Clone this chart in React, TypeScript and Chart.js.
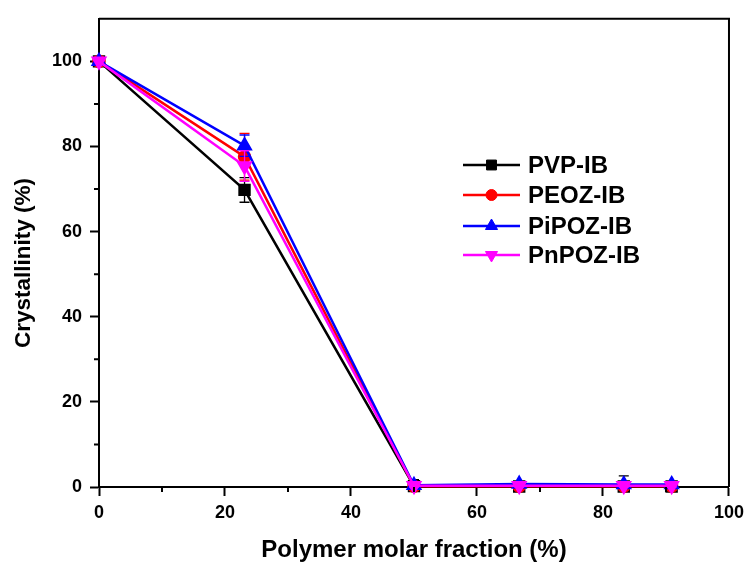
import React, { useEffect, useRef } from "react";
import { Chart, registerables } from "chart.js";
import { drawPoint } from "chart.js/helpers";

Chart.register(...registerables);

const xValues = [0, 23.1, 50, 66.7, 83.3, 90.9];
const seriesNames = ["PVP-IB", "PEOZ-IB", "PiPOZ-IB", "PnPOZ-IB"];
const pvp = [100, 69.8, 0.2, 0.1, 0.1, 0.1];
const peoz = [100, 77.6, 0.2, 0.2, 0.2, 0.2];
const pipoz = [100, 80.2, 0.4, 0.7, 0.6, 0.6];
const pnpoz = [100, 75.4, 0.3, 0.3, 0.3, 0.3];
const pvpErr = [0, 2.9, 1.5, 0.5, 2.5, 0.3];
const peozErr = [0, 5.5, 0.8, 0.3, 0.3, 0.3];
const pipozErr = [0, 2.5, 0.5, 0.3, 0.3, 0.3];
const pnpozErr = [0, 3.6, 0.4, 0.3, 0.3, 0.3];
const xTickLabels = ["0", "20", "40", "60", "80", "100"];
const yTickLabels = ["0", "20", "40", "60", "80", "100"];
const xTitle = "Polymer molar fraction (%)";
const yTitle = "Crystallinity (%)";

const colors = ["#000000", "#ff0000", "#0000ff", "#ff00ff"];
const styles = ["rect", "circle", "triangle", "triangle"];
const rotations = [0, 0, 0, 180];
const radii = [7, 5.5, 7, 7];
const FONT = "'Liberation Sans', Arial, sans-serif";

const allValues = [pvp, peoz, pipoz, pnpoz];
const allErrors = [pvpErr, peozErr, pipozErr, pnpozErr];

const errorBarPlugin = {
  id: "errorBars",
  afterDatasetDraw(chart: any, args: any) {
    const i = args.index;
    const ds = chart.data.datasets[i];
    const errs = ds.errors as number[];
    const xs = chart.scales.x;
    const ys = chart.scales.y;
    const ctx = chart.ctx;
    ctx.save();
    ctx.strokeStyle = ds.borderColor;
    ctx.lineWidth = 1.3;
    ds.data.forEach((p: any, j: number) => {
      const e = errs[j];
      if (!e) return;
      const px = xs.getPixelForValue(p.x);
      const top = ys.getPixelForValue(p.y + e);
      const bot = ys.getPixelForValue(Math.max(0, p.y - e));
      ctx.beginPath();
      ctx.moveTo(px, top);
      ctx.lineTo(px, bot);
      ctx.moveTo(px - 5, top);
      ctx.lineTo(px + 5, top);
      ctx.moveTo(px - 5, bot);
      ctx.lineTo(px + 5, bot);
      ctx.stroke();
    });
    ctx.restore();
  },
};

const framePlugin = {
  id: "frame",
  afterDraw(chart: any) {
    const { ctx, chartArea } = chart;
    const xs = chart.scales.x;
    const ys = chart.scales.y;
    ctx.save();
    ctx.strokeStyle = "#000";
    ctx.lineWidth = 2;
    ctx.beginPath();
    ctx.moveTo(chartArea.left, chartArea.top);
    ctx.lineTo(chartArea.right, chartArea.top);
    ctx.lineTo(chartArea.right, chartArea.bottom);
    ctx.stroke();
    // minor ticks
    ctx.beginPath();
    for (let v = 10; v <= 100; v += 20) {
      const px = xs.getPixelForValue(v);
      ctx.moveTo(px, chartArea.bottom);
      ctx.lineTo(px, chartArea.bottom + 5);
    }
    for (let v = 10; v < 110; v += 20) {
      const py = ys.getPixelForValue(v);
      ctx.moveTo(chartArea.left, py);
      ctx.lineTo(chartArea.left - 5, py);
    }
    ctx.stroke();
    // y title
    ctx.save();
    ctx.translate(24, 263);
    ctx.rotate(-Math.PI / 2);
    ctx.font = `bold 22.5px ${FONT}`;
    ctx.fillStyle = "#000";
    ctx.textAlign = "center";
    ctx.textBaseline = "middle";
    ctx.fillText(yTitle, 0, 0);
    ctx.restore();
    // legend
    const lx0 = 463;
    const lx1 = 520;
    const rowY = [165, 195, 226, 255];
    ctx.font = `bold 24px ${FONT}`;
    ctx.textBaseline = "middle";
    ctx.textAlign = "left";
    chart.data.datasets.forEach((ds: any, i: number) => {
      const y = rowY[i];
      ctx.strokeStyle = ds.borderColor;
      ctx.lineWidth = 2.5;
      ctx.beginPath();
      ctx.moveTo(lx0, y);
      ctx.lineTo(lx1, y);
      ctx.stroke();
      ctx.fillStyle = ds.pointBackgroundColor;
      ctx.strokeStyle = ds.borderColor;
      ctx.lineWidth = 1;
      drawPoint(ctx, { pointStyle: ds.pointStyle, rotation: ds.pointRotation, radius: ds.pointRadius, borderWidth: 1 }, (lx0 + lx1) / 2, y);
      ctx.fillStyle = "#000";
      ctx.fillText(ds.label, 528, y + 1);
    });
    ctx.restore();
  },
};

export default function App() {
  const ref = useRef<HTMLCanvasElement>(null);
  useEffect(() => {
    document.body.style.margin = "0";
    const datasets = seriesNames.map((name, i) => ({
      label: name,
      data: xValues.map((x, j) => ({ x, y: allValues[i][j] })),
      errors: allErrors[i],
      order: seriesNames.length - i,
      borderColor: colors[i],
      backgroundColor: colors[i],
      pointBackgroundColor: colors[i],
      pointBorderColor: colors[i],
      pointStyle: styles[i],
      pointRotation: rotations[i],
      pointRadius: radii[i],
      borderWidth: 2.5,
      tension: 0,
      clip: false,
    }));
    const chart = new Chart(ref.current as HTMLCanvasElement, {
      type: "line",
      data: { datasets } as any,
      plugins: [errorBarPlugin, framePlugin],
      options: {
        animation: false,
        responsive: false,
        devicePixelRatio: 1,
        layout: { padding: { left: 0, right: 17, top: 15, bottom: 0 } },
        plugins: { legend: { display: false }, tooltip: { enabled: false } },
        scales: {
          x: {
            type: "linear",
            min: 0,
            max: 100,
            afterFit: (s: any) => {
              s.height = 76;
            },
            afterBuildTicks: (s: any) => {
              s.ticks = [];
              for (let v = 0; v <= 100; v += 20) s.ticks.push({ value: v });
            },
            ticks: {
              color: "#000",
              padding: 6,
              font: { family: FONT, size: 18, weight: "bold" },
              maxRotation: 0,
              callback: (v: any) => xTickLabels[Math.round(Number(v) / 20)],
            },
            grid: { display: true, drawOnChartArea: false, tickLength: 9, tickWidth: 2, tickColor: "#000" },
            border: { display: true, color: "#000", width: 2 },
            title: {
              display: true,
              text: xTitle,
              color: "#000",
              font: { family: FONT, size: 24, weight: "bold", lineHeight: 1 },
              padding: { top: 0, bottom: 1 },
            },
          },
          y: {
            type: "linear",
            min: 0,
            max: 110,
            afterFit: (s: any) => {
              s.width = 99;
            },
            afterBuildTicks: (s: any) => {
              s.ticks = [];
              for (let v = 0; v <= 100; v += 20) s.ticks.push({ value: v });
            },
            ticks: {
              color: "#000",
              padding: 8,
              font: { family: FONT, size: 18, weight: "bold" },
              callback: (v: any) => yTickLabels[Math.round(Number(v) / 20)],
            },
            grid: { display: true, drawOnChartArea: false, tickLength: 9, tickWidth: 2, tickColor: "#000" },
            border: { display: true, color: "#000", width: 2 },
            title: { display: false },
          },
        },
      } as any,
    });
    return () => chart.destroy();
  }, []);
  return (
    <div style={{ width: 750, height: 563, background: "#fff" }}>
      <canvas ref={ref} width={750} height={563} />
    </div>
  );
}
